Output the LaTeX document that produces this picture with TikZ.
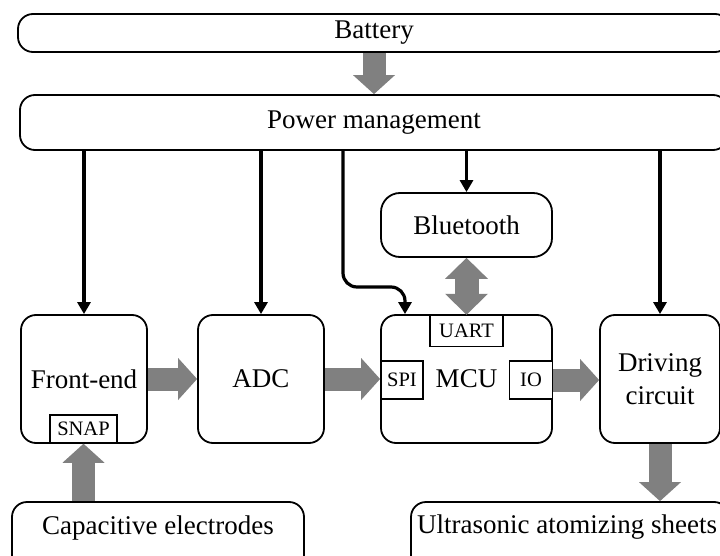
\documentclass[tikz,border=0pt]{standalone}
\usepackage{fontspec}
\setmainfont{Liberation Serif}
\usetikzlibrary{arrows.meta}
\definecolor{arrowgray}{RGB}{128,128,128}
\tikzset{
  box/.style={draw, line width=1.8pt, rounded corners=15pt, fill=white, inner sep=0pt,
              font=\fontsize{27}{33}\selectfont, align=center},
  boxtext/.style={inner sep=0pt, font=\fontsize{27}{33}\selectfont},
  port/.style={draw, line width=1.5pt, fill=white, inner sep=0pt, font=\fontsize{20.5}{22}\selectfont},
  barrow/.style={line width=3.2pt, -{Triangle[width=13pt,length=12pt]}},
  garrow/.style={draw=arrowgray, line width=23pt, -{Triangle[width=42pt,length=19pt,line width=0pt]}},
  gdouble/.style={draw=arrowgray, line width=24pt,
     {Triangle[width=43pt,length=21pt,line width=0pt]}-{Triangle[width=43pt,length=21pt,line width=0pt]}}
}
\begin{document}
\begin{tikzpicture}[x=1pt,y=-1pt]
\useasboundingbox (0,0) rectangle (720,556);
\clip (0,0) rectangle (720,556);
\fill[white] (0,0) rectangle (720,556);

% boxes
\node[box, minimum width=712pt, minimum height=38pt] (battery) at (374,33) {Battery};
\node[box, minimum width=708pt, minimum height=55pt] (pm) at (374,122.5) {Power management};
\node[box, minimum width=171pt, minimum height=64pt, rounded corners=19pt] (bt) at (466.5,225) {Bluetooth};
\node[box, minimum width=126pt, minimum height=128pt] (fe) at (84,379) {Front-end};
\node[port, minimum width=67pt, minimum height=28pt] (snap) at (83.5,429) {SNAP};
\node[box, minimum width=126pt, minimum height=128pt] (adc) at (261,379) {ADC};
\node[box, minimum width=171pt, minimum height=128pt] (mcu) at (466.5,379) {MCU};
\node[port, minimum width=73pt, minimum height=31pt] (uart) at (466.5,331) {UART};
\node[port, minimum width=42pt, minimum height=38pt] (spi) at (402,380) {SPI};
\node[port, minimum width=43pt, minimum height=38pt] (io) at (531,380) {IO};
\node[box, minimum width=120pt, minimum height=128pt] (drv) at (660,379) {Driving\\circuit};
\node[box, minimum width=292pt, minimum height=76pt] (cap) at (158,540) {};
\node[boxtext] (captext) at (158,528) {Capacitive electrodes};
\node[box, minimum width=318pt, minimum height=76pt] (us) at (570,540) {};
\node[boxtext] (ustext) at (567,527) {Ultrasonic atomizing sheets};

% power lines
\coordinate (tap) at (343,0);
\coordinate (knee) at (405,287);
\draw[barrow] (pm.south -| fe.north) -- (fe.north);
\draw[barrow] (pm.south -| adc.north) -- (adc.north);
\draw[barrow] (pm.south -| bt.north) -- (bt.north);
\draw[barrow] (pm.south -| drv.north) -- (drv.north);
\draw[barrow, rounded corners=14pt] (pm.south -| tap) |- (knee) -- (mcu.north -| knee);

% data / power block arrows
\draw[garrow] (battery.south) -- (pm.north);
\draw[garrow] (fe.east) -- (adc.west);
\draw[garrow] (adc.east) -- (adc.east -| mcu.west);
\draw[garrow] (io.east) -- (io.east -| drv.west);
\draw[garrow] (snap.south |- cap.north) -- (snap.south);
\draw[garrow] (drv.south) -- (drv.south |- us.north);
\draw[gdouble] (bt.south) -- (uart.north);
\end{tikzpicture}
\end{document}
